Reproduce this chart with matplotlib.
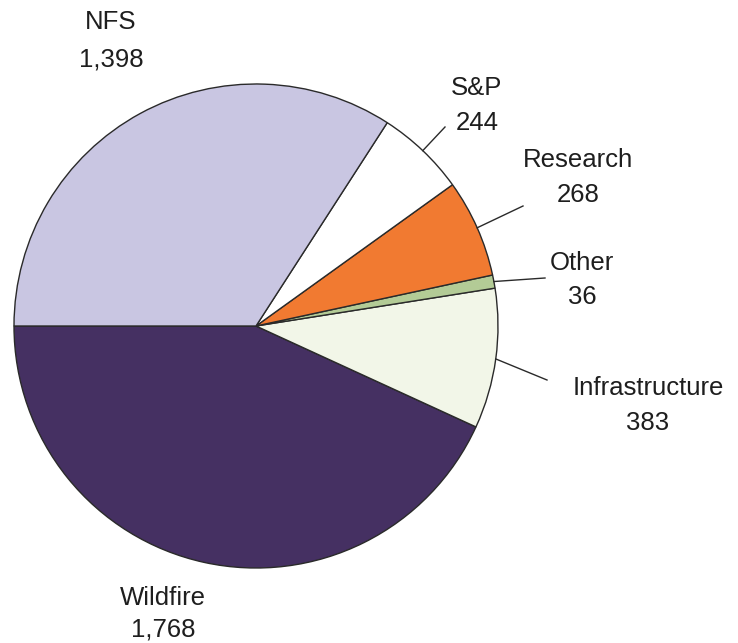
import matplotlib
matplotlib.use("Agg")
import matplotlib.pyplot as plt
import numpy as np

# Data (order drawn counter-clockwise from 180 degrees)
categories = ["Wildfire", "Infrastructure", "Other", "Research", "S&P", "NFS"]
values = [1768, 383, 36, 268, 244, 1398]
value_labels = ["1,768", "383", "36", "268", "244", "1,398"]
colors = ["#453062", "#f2f6e8", "#b3cb96", "#f17a31", "#ffffff", "#c9c6e2"]

W, H = 738, 643
CX, CY, R = 256, 326, 242

fig = plt.figure(figsize=(W / 100, H / 100), dpi=100)
ax = fig.add_axes([0, 0, 1, 1])
ax.axis("off")

wedges, _ = ax.pie(values, colors=colors, startangle=180, counterclock=True,
                   radius=1.0, center=(0, 0),
                   wedgeprops=dict(edgecolor="#2a2a2a", linewidth=1.0))
ax.set_xlim(-CX / R, (W - CX) / R)
ax.set_ylim(-(H - CY) / R, CY / R)
ax.set_aspect("auto")


def px(x, y):
    return (x - CX) / R, (CY - y) / R


# label layout (pixel positions): name centre, value centre, leader end (or None)
layout = {
    "NFS": ((111, 22), (111, 59), None),
    "S&P": ((477, 88), (477, 123), (445, 127)),
    "Research": ((578, 160), (578, 195), (523, 206)),
    "Other": ((582, 263), (582, 297), (545, 278)),
    "Infrastructure": ((648, 388), (648, 423), (547, 380)),
    "Wildfire": ((163, 598), (163, 629), None),
}

font = dict(family="Liberation Sans", fontsize=18.5, color="#1e1e1e",
            ha="center", va="center")

for w, cat, vl in zip(wedges, categories, value_labels):
    name_pos, val_pos, lead = layout[cat]
    ax.text(*px(*name_pos), cat, **font)
    ax.text(*px(*val_pos), vl, **font)
    if lead is not None:
        ang = np.deg2rad((w.theta1 + w.theta2) / 2)
        x0, y0 = np.cos(ang), np.sin(ang)
        x1, y1 = px(*lead)
        ax.plot([x0, x1], [y0, y1], color="#2a2a2a", lw=1.0)

fig.savefig("out.png", dpi=100)
